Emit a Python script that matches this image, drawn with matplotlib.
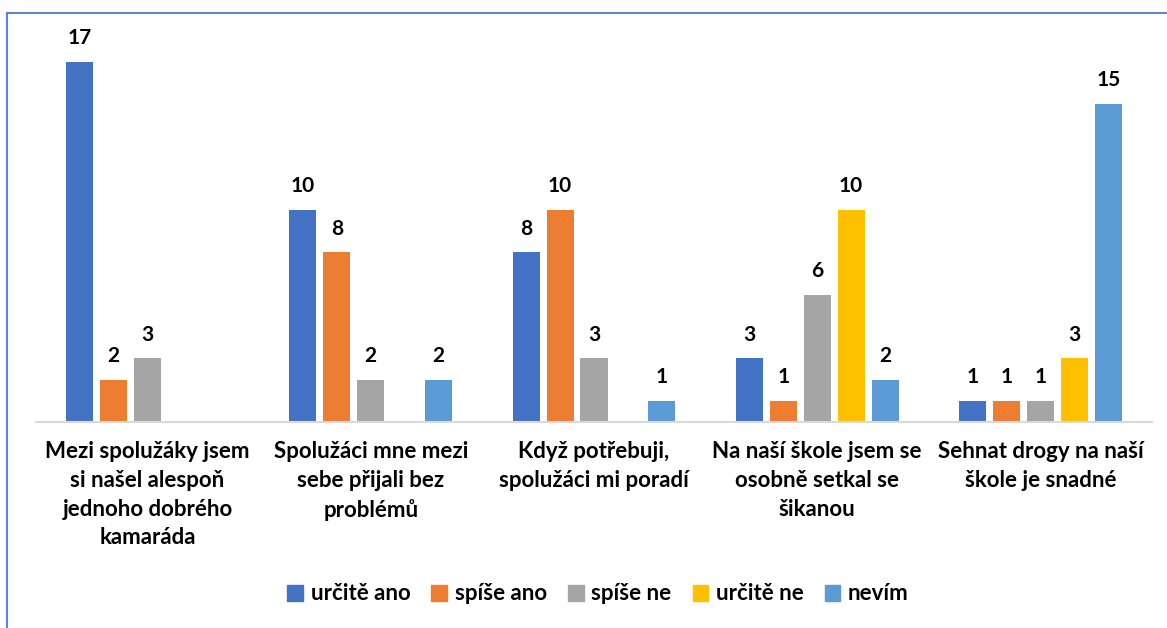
import matplotlib.pyplot as plt
from matplotlib.lines import Line2D
from matplotlib.patches import Patch
import numpy as np

categories = [
    "Mezi spolužáky jsem\nsi našel alespoň\njednoho dobrého\nkamaráda",
    "Spolužáci mne mezi\nsebe přijali bez\nproblémů",
    "Když potřebuji,\nspolužáci mi poradí",
    "Na naší škole jsem se\nosobně setkal se\nšikanou",
    "Sehnat drogy na naší\nškole je snadné",
]
series_names = ["určitě ano", "spíše ano", "spíše ne", "určitě ne", "nevím"]
urcite_ano = [17, 10, 8, 3, 1]
spise_ano = [2, 8, 10, 1, 1]
spise_ne = [3, 2, 3, 6, 1]
urcite_ne = [np.nan, np.nan, np.nan, 10, 3]
nevim = [np.nan, 2, 1, 2, 15]
colors = ["#4472C4", "#ED7D31", "#A5A5A5", "#FFC000", "#5B9BD5"]

plt.rcParams['font.family'] = ['Lato', 'DejaVu Sans']

fig = plt.figure(figsize=(11.67, 6.28), dpi=100)
ax = fig.add_axes([36 / 1167, 1 - 422 / 628, 1116 / 1167, 381.6 / 628])

x = np.arange(len(categories))
step = 0.152
width = 0.121
all_series = [urcite_ano, spise_ano, spise_ne, urcite_ne, nevim]
handles = []
for j, (name, vals, col) in enumerate(zip(series_names, all_series, colors)):
    v = np.array(vals, dtype=float)
    ok = ~np.isnan(v)
    pos = x[ok] + (j - 2) * step
    bars = ax.bar(pos, v[ok], width, color=col)
    for b, val in zip(bars, v[ok]):
        ax.annotate(f"{int(val)}", (b.get_x() + b.get_width() / 2, val),
                    xytext=(0, 10), textcoords='offset points',
                    ha='center', va='bottom', fontsize=15, fontweight='bold')
    handles.append(Patch(color=col, label=name))

ax.set_xlim(-0.5, 4.5)
ax.set_ylim(0, 18)
ax.set_yticks([])
ax.set_xticks(x)
ax.set_xticklabels(categories, fontsize=16, fontweight='bold', linespacing=1.45)
ax.tick_params(axis='x', length=0, pad=14)
for s in ['top', 'right', 'left']:
    ax.spines[s].set_visible(False)
ax.spines['bottom'].set_color('#D9D9D9')
ax.spines['bottom'].set_linewidth(1.5)

fig.legend(handles=handles, loc='center', bbox_to_anchor=(598 / 1167, 1 - 594 / 628), ncol=5,
           frameon=False, prop={'size': 16, 'weight': 'bold'},
           handlelength=0.7, handleheight=0.7, handletextpad=0.35, columnspacing=0.95)

# chart border (only left and top visible in the crop)
fig.add_artist(Line2D([6.5 / 1167, 6.5 / 1167], [0, 1 - 12.5 / 628], color='#5B87D1', lw=1.5))
fig.add_artist(Line2D([6.5 / 1167, 1], [1 - 12.5 / 628, 1 - 12.5 / 628], color='#5B87D1', lw=1.5))

fig.savefig('out.png', dpi=100)
